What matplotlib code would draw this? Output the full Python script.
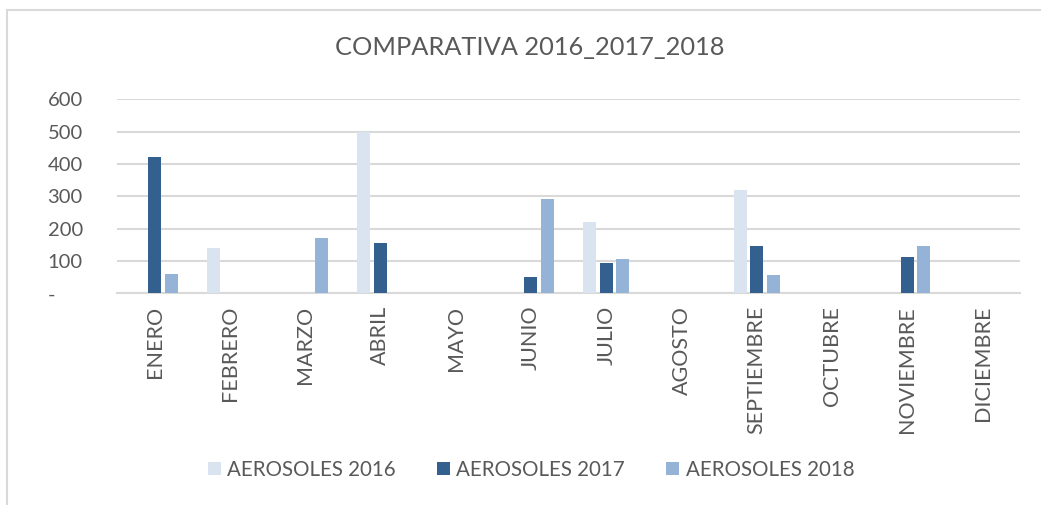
import numpy as np
import matplotlib.pyplot as plt
from matplotlib.patches import Rectangle

plt.rcParams['font.family'] = ['Lato', 'DejaVu Sans']

meses = ['ENERO', 'FEBRERO', 'MARZO', 'ABRIL', 'MAYO', 'JUNIO', 'JULIO',
         'AGOSTO', 'SEPTIEMBRE', 'OCTUBRE', 'NOVIEMBRE', 'DICIEMBRE']
aerosoles_2016 = [0, 140, 0, 500, 0, 0, 220, 0, 320, 0, 0, 0]
aerosoles_2017 = [420, 0, 0, 157, 0, 51, 95, 0, 147, 0, 111, 0]
aerosoles_2018 = [60, 0, 171, 0, 0, 292, 106, 0, 58, 0, 145, 0]
yticks = [0, 100, 200, 300, 400, 500, 600]
ytick_labels = ['-', '100', '200', '300', '400', '500', '600']

series = [
    ('AEROSOLES 2016', aerosoles_2016, '#DAE4F1'),
    ('AEROSOLES 2017', aerosoles_2017, '#34608F'),
    ('AEROSOLES 2018', aerosoles_2018, '#95B3D7'),
]

fig = plt.figure(figsize=(10.41, 5.05), dpi=100)
ax = fig.add_axes([0.1124, 0.4192, 0.8676, 0.3842])

# marco del grafico
fig.patches.append(Rectangle((0.0067, -0.01), 1.1, 0.99, transform=fig.transFigure,
                             fill=False, edgecolor='#D9D9D9', linewidth=1.5))

x = np.arange(len(meses))
for i, (nombre, valores, color) in enumerate(series):
    ax.bar(x + (i - 1) * 0.22, valores, width=0.173, color=color, label=nombre,
           zorder=3)

ax.set_xlim(-0.5, len(meses) - 0.5)
ax.set_ylim(0, 600)
ax.set_yticks(yticks)
ax.set_yticklabels(ytick_labels)
ax.set_xticks(x)
ax.set_xticklabels(meses, rotation=90, va='top', ha='center')

ax.grid(axis='y', color='#D9D9D9', linewidth=1.5, zorder=0)
for s in ['top', 'right', 'left']:
    ax.spines[s].set_visible(False)
ax.spines['bottom'].set_color('#D9D9D9')
ax.spines['bottom'].set_linewidth(1.5)
ax.tick_params(axis='both', length=0, colors='#595959')
ax.tick_params(axis='y', pad=50, labelsize=14.5)
ax.tick_params(axis='x', pad=9, labelsize=15.5)
for lbl in ax.get_yticklabels():
    lbl.set_horizontalalignment('left')

fig.text(0.509, 0.905, 'COMPARATIVA 2016_2017_2018', ha='center', va='center',
         fontsize=18.3, color='#595959')

fig.legend(loc='center', bbox_to_anchor=(0.51, 0.07), ncol=3, frameon=False,
           fontsize=14.8, labelcolor='#595959', handlelength=0.65, handleheight=0.65,
           handletextpad=0.3, columnspacing=2.0)

fig.savefig('out.png', dpi=100)
